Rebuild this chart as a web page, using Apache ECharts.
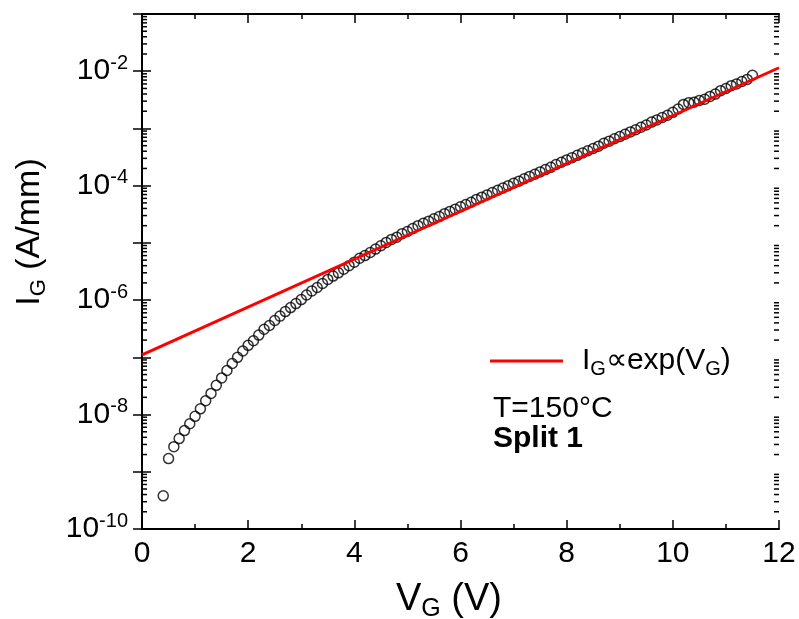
<!DOCTYPE html>
<html><head><meta charset="utf-8">
<script src="https://cdn.jsdelivr.net/npm/echarts@6/dist/echarts.min.js"></script>
<style>html,body{margin:0;padding:0;background:#fff}#c{width:799px;height:619px}</style>
</head><body><div id="c"></div>
<script>
// Gate voltage (V)
const vgValues = [0.4,0.5,0.6,0.7,0.8,0.9,1.0,1.1,1.2,1.3,1.4,1.5,1.6,1.7,1.8,1.9,2.0,2.1,2.2,2.3,2.4,2.5,2.6,2.7,2.8,2.9,3.0,3.1,3.2,3.3,3.4,3.5,3.6,3.7,3.8,3.9,4.0,4.1,4.2,4.3,4.4,4.5,4.6,4.7,4.8,4.9,5.0,5.1,5.2,5.3,5.4,5.5,5.6,5.7,5.8,5.9,6.0,6.1,6.2,6.3,6.4,6.5,6.6,6.7,6.8,6.9,7.0,7.1,7.2,7.3,7.4,7.5,7.6,7.7,7.8,7.9,8.0,8.1,8.2,8.3,8.4,8.5,8.6,8.7,8.8,8.9,9.0,9.1,9.2,9.3,9.4,9.5,9.6,9.7,9.8,9.9,10.0,10.1,10.2,10.3,10.4,10.5,10.6,10.7,10.8,10.9,11.0,11.1,11.2,11.3,11.4,11.5];
// Gate current (A/mm)
const igValues = [3.8e-10,1.7e-9,2.75e-9,3.8e-9,5.25e-9,6.9e-9,9.3e-9,1.26e-8,1.74e-8,2.34e-8,3.24e-8,4.37e-8,5.9e-8,7.8e-8,1.0e-7,1.29e-7,1.62e-7,1.95e-7,2.45e-7,3.1e-7,3.6e-7,4.4e-7,5.25e-7,6.3e-7,7.4e-7,8.7e-7,1.02e-6,1.23e-6,1.45e-6,1.66e-6,1.95e-6,2.3e-6,2.63e-6,3.0e-6,3.47e-6,4.0e-6,4.6e-6,5.4e-6,6.0e-6,6.8e-6,7.8e-6,8.9e-6,1.02e-5,1.15e-5,1.26e-5,1.45e-5,1.58e-5,1.78e-5,2.0e-5,2.2e-5,2.4e-5,2.63e-5,2.88e-5,3.24e-5,3.55e-5,3.89e-5,4.27e-5,4.68e-5,5.13e-5,5.75e-5,6.3e-5,6.9e-5,7.6e-5,8.3e-5,9.1e-5,1.0e-4,1.10e-4,1.20e-4,1.32e-4,1.45e-4,1.58e-4,1.74e-4,1.91e-4,2.09e-4,2.34e-4,2.57e-4,2.82e-4,3.09e-4,3.39e-4,3.72e-4,4.07e-4,4.47e-4,4.9e-4,5.5e-4,6.0e-4,6.6e-4,7.2e-4,7.9e-4,8.7e-4,9.5e-4,1.05e-3,1.15e-3,1.29e-3,1.41e-3,1.55e-3,1.70e-3,1.91e-3,2.19e-3,2.63e-3,2.82e-3,2.88e-3,3.09e-3,3.24e-3,3.63e-3,3.98e-3,4.57e-3,5.0e-3,5.6e-3,6.0e-3,6.6e-3,7.2e-3,8.5e-3];
// Exponential fit line end points
const fitV = [0, 12];
const fitI = [1.1e-7, 1.15e-2];
// Axis ticks
const xMin = 0, xMax = 12, xStep = 2;
const yDecades = [-10,-9,-8,-7,-6,-5,-4,-3,-2];
const minorMult = [2,3,4,5,6,7,8,9];
const yMinorTicks = [];
yDecades.forEach(d => minorMult.forEach(m => yMinorTicks.push(m * Math.pow(10, d))));

const FONT = '"Liberation Sans", Arial, sans-serif';
const chart = echarts.init(document.getElementById('c'), null, {renderer: 'canvas'});

const yLabel = v => {
  const e = Math.round(Math.log10(v));
  if (e % 2 !== 0) return '';
  return '{b|10}{s|' + e + '}';
};
const axisCommon = {
  axisLine: {show: true, lineStyle: {color: '#000', width: 2}},
  splitLine: {show: false},
};
const tickStyle = {show: true, inside: true, length: 9, lineStyle: {color: '#000', width: 1.5}};
const minorStyle = {show: true, splitNumber: 2, length: 5, lineStyle: {color: '#000', width: 1.5}};

chart.setOption({
  animation: false,
  backgroundColor: '#fff',
  grid: {left: 142, right: 20, top: 14, bottom: 90, containLabel: false},
  xAxis: [
    Object.assign({}, axisCommon, {
      type: 'value', min: xMin, max: xMax, interval: xStep, position: 'bottom',
      axisTick: tickStyle, minorTick: minorStyle, minorSplitLine: {show: false},
      axisLabel: {show: true, color: '#000', fontSize: 30, fontFamily: FONT, margin: 10}
    }),
    Object.assign({}, axisCommon, {
      type: 'value', min: xMin, max: xMax, interval: xStep, position: 'top',
      axisTick: tickStyle, minorTick: minorStyle, minorSplitLine: {show: false},
      axisLabel: {show: false}
    })
  ],
  yAxis: [
    Object.assign({}, axisCommon, {
      type: 'log', logBase: 10, min: 1e-10, max: 1e-1, interval: 1, position: 'left',
      axisTick: tickStyle,
      axisLabel: {show: true, color: '#000', fontFamily: FONT, margin: 14, formatter: yLabel,
        rich: {
          b: {fontSize: 30, fontFamily: FONT, color: '#000', lineHeight: 36},
          s: {fontSize: 20, fontFamily: FONT, color: '#000', lineHeight: 20, verticalAlign: 'top'}
        }}
    }),
    Object.assign({}, axisCommon, {
      type: 'log', logBase: 10, min: 1e-10, max: 1e-1, interval: 1, position: 'right',
      axisTick: tickStyle,
      axisLabel: {show: false}
    })
  ],
  legend: {
    show: true, left: 490, top: 346, padding: 0, orient: 'vertical',
    data: ['fit'], icon: 'rect', itemWidth: 73, itemHeight: 3,
    formatter: () => '{a|I}{sub|G}{a|∝exp(V}{sub|G}{a|)}',
    textStyle: {
      padding: [0, 0, 0, 14],
      rich: {
        a: {fontSize: 30, fontFamily: FONT, color: '#000', lineHeight: 36},
        sub: {fontSize: 20, fontFamily: FONT, color: '#000', lineHeight: 20, verticalAlign: 'bottom'}
      }
    }
  },
  graphic: [
    {type: 'text', left: 493, top: 394, style: {text: 'T=150°C', font: '30px ' + FONT, fill: '#000'}},
    {type: 'text', left: 493, top: 424, style: {text: 'Split 1', font: 'bold 30px ' + FONT, fill: '#000'}},
    {type: 'text', x: 449, y: 600, style: {
      text: '{a|V}{sub|G}{a| (V)}', align: 'center', verticalAlign: 'middle',
      rich: {
        a: {fontSize: 38, fontFamily: FONT, fill: '#000', lineHeight: 44},
        sub: {fontSize: 25, fontFamily: FONT, fill: '#000', lineHeight: 25, verticalAlign: 'bottom'}
      }}},
    {type: 'text', x: 30, y: 232, rotation: Math.PI / 2, style: {
      text: '{a|I}{sub|G}{a| (A/mm)}', align: 'center', verticalAlign: 'middle',
      rich: {
        a: {fontSize: 34, fontFamily: FONT, fill: '#000', lineHeight: 40},
        sub: {fontSize: 22, fontFamily: FONT, fill: '#000', lineHeight: 22, verticalAlign: 'bottom'}
      }}}
  ],
  series: [
    {
      name: 'data', type: 'scatter', xAxisIndex: 0, yAxisIndex: 0, z: 2,
      symbol: 'circle', symbolSize: 10,
      itemStyle: {color: 'rgba(0,0,0,0)', borderColor: '#000', borderWidth: 1.5},
      data: vgValues.map((v, i) => [v, igValues[i]])
    },
    {
      name: 'fit', type: 'line', xAxisIndex: 0, yAxisIndex: 0, z: 3,
      showSymbol: false, symbol: 'none', color: '#ff0000',
      lineStyle: {color: '#ff0000', width: 3},
      data: fitV.map((v, i) => [v, fitI[i]])
    },
    {
      name: 'minor', type: 'custom', xAxisIndex: 0, yAxisIndex: 0, z: 5, silent: true, clip: false,
      data: yMinorTicks.map(v => [xMin, v]),
      renderItem: (params, api) => {
        const p = api.coord([xMin, api.value(1)]);
        const q = api.coord([xMax, api.value(1)]);
        return {type: 'group', children: [
          {type: 'line', shape: {x1: p[0], y1: p[1], x2: p[0] + 5, y2: p[1]}, style: {stroke: '#000', lineWidth: 1.5}},
          {type: 'line', shape: {x1: q[0] - 5, y1: q[1], x2: q[0], y2: q[1]}, style: {stroke: '#000', lineWidth: 1.5}}
        ]};
      }
    }
  ]
});
</script></body></html>
